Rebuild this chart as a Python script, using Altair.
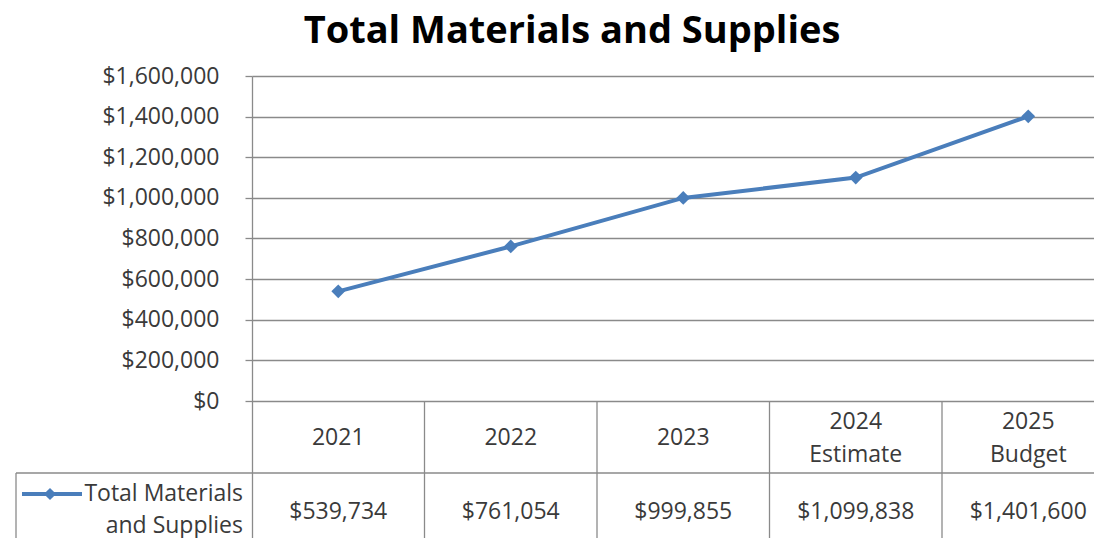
import altair as alt
import pandas as pd

# ---------------- data ----------------
categories = ["2021", "2022", "2023", "2024\nEstimate", "2025\nBudget"]
values = [539734, 761054, 999855, 1099838, 1401600]
value_labels = ["$539,734", "$761,054", "$999,855", "$1,099,838", "$1,401,600"]
y_ticks = [0, 200000, 400000, 600000, 800000, 1000000, 1200000, 1400000, 1600000]
series_name = "Total Materials\nand Supplies"
title_text = "Total Materials and Supplies"

# ---------------- layout (pixels) ----------------
PAD_L, PAD_T = 244, 68
W, H = 842, 462
COL = 172.5
ZERO_PX = 325
Y_MAX = 1600000
PER_PX = Y_MAX / ZERO_PX
Y_MIN = -(H - ZERO_PX) * PER_PX
X_MAX = W / COL
HEAD_LH = 33
LEG_LH = 32


def ypx(px_below_zero):
    return -px_below_zero * PER_PX


def xpx(px_from_axis):
    return px_from_axis / COL


LINE_BLUE = "#4A7EBB"
GRID = "#8A8A8A"
TEXT = "#3A3A3A"
FONT = "Open Sans"
FS = 23

xs = alt.Scale(domain=[0, X_MAX], nice=False, zero=False)
ys = alt.Scale(domain=[Y_MIN, Y_MAX], nice=False, zero=False)

# ---------------- one long table for all layers ----------------
rows = []
n = len(categories)
for i in range(n):
    extra_lines = categories[i].count("\n")
    head_first = 37 - extra_lines * HEAD_LH / 2
    rows.append({"kind": "series", "x": i + 0.5, "y": values[i], "text": "", "sid": "s", "ord": i})
    rows.append({"kind": "head", "x": i + 0.5, "y": ypx(head_first), "text": categories[i], "sid": "h", "ord": i})
    rows.append({"kind": "val", "x": i + 0.5, "y": ypx(111), "text": value_labels[i], "sid": "v", "ord": i})

row_line_y = ypx(72)
left_edge = xpx(-236)


def add_seg(name, x1, y1, x2, y2):
    rows.append({"kind": "seg", "x": x1, "y": y1, "text": "", "sid": name, "ord": 0})
    rows.append({"kind": "seg", "x": x2, "y": y2, "text": "", "sid": name, "ord": 1})


for b in range(1, n):
    add_seg(f"v{b}", b, 0, b, Y_MIN)
add_seg("vleft", left_edge, row_line_y, left_edge, Y_MIN)
add_seg("hrow", left_edge, row_line_y, X_MAX, row_line_y)

rows.append({"kind": "legtext", "x": xpx(-9), "y": ypx(93), "text": series_name, "sid": "lt", "ord": 0})
rows.append({"kind": "legline", "x": xpx(-230), "y": ypx(93), "text": "", "sid": "ll", "ord": 0})
rows.append({"kind": "legline", "x": xpx(-170), "y": ypx(93), "text": "", "sid": "ll", "ord": 1})
rows.append({"kind": "legpt", "x": xpx(-202), "y": ypx(93), "text": "", "sid": "lp", "ord": 0})

df = pd.DataFrame(rows)
base = alt.Chart(df)

X = alt.X("x:Q", scale=xs, axis=None)
Y_AX = alt.Y(
    "y:Q",
    scale=ys,
    axis=alt.Axis(
        values=y_ticks,
        format="$,.0f",
        title=None,
        grid=True,
        gridColor=GRID,
        gridWidth=1.3,
        domain=True,
        domainColor=GRID,
        domainWidth=1.3,
        tickColor=GRID,
        tickSize=7,
        tickWidth=1.3,
        labelFont=FONT,
        labelFontSize=FS,
        labelColor=TEXT,
        labelPadding=26,
    ),
)
Y = alt.Y("y:Q", scale=ys)


def pick(k):
    return base.transform_filter(alt.datum.kind == k)


table_lines = pick("seg").mark_line(color=GRID, strokeWidth=1.3).encode(
    x=X, y=Y, detail="sid:N", order="ord:Q"
)
line = pick("series").mark_line(color=LINE_BLUE, strokeWidth=4).encode(
    x=X, y=Y_AX, order="ord:Q"
)
points = pick("series").mark_point(
    shape="diamond", filled=True, size=190, color=LINE_BLUE, opacity=1
).encode(x=X, y=Y)
header_text = pick("head").mark_text(
    font=FONT, fontSize=FS, color=TEXT, lineBreak="\n", baseline="middle",
    lineHeight=HEAD_LH,
).encode(x=X, y=Y, text="text:N")
value_text = pick("val").mark_text(
    font=FONT, fontSize=FS, color=TEXT, baseline="middle",
).encode(x=X, y=Y, text="text:N")
leg_text = pick("legtext").mark_text(
    font=FONT, fontSize=FS, color=TEXT, lineBreak="\n", align="right",
    baseline="middle", lineHeight=LEG_LH,
).encode(x=X, y=Y, text="text:N")
leg_line = pick("legline").mark_line(color=LINE_BLUE, strokeWidth=4).encode(
    x=X, y=Y, order="ord:Q"
)
leg_pt = pick("legpt").mark_point(
    shape="diamond", filled=True, size=150, color=LINE_BLUE, opacity=1
).encode(x=X, y=Y)

chart = alt.layer(
    line, table_lines, points, header_text, value_text, leg_line, leg_pt, leg_text
).properties(
    width=W,
    height=H,
    autosize=alt.AutoSizeParams(type="none"),
    padding={"left": PAD_L, "top": PAD_T, "right": 0, "bottom": 0},
    title=alt.TitleParams(
        title_text,
        font=FONT,
        fontSize=38,
        fontWeight="bold",
        color="#000000",
        anchor="middle",
        dx=-101,
        offset=14,
    ),
).configure_view(stroke=None)

chart.save("out.html", embed_options={"renderer": "svg", "actions": False})
